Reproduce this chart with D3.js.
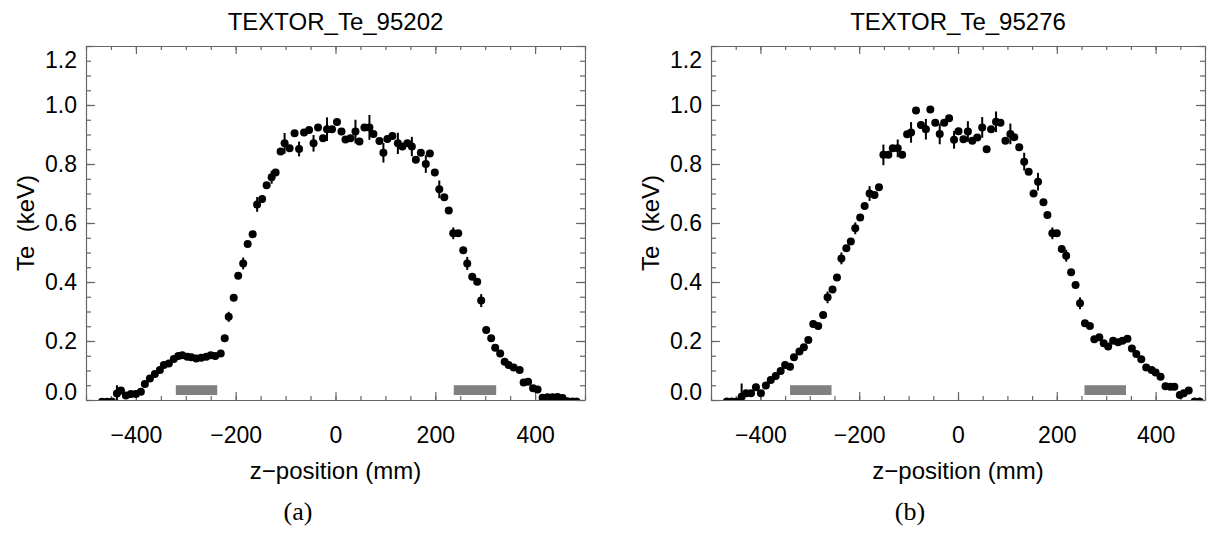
<!DOCTYPE html>
<html>
<head>
<meta charset="utf-8">
<script src="https://cdn.jsdelivr.net/npm/d3@7"></script>
<style>
body { margin: 0; background: #fff; }
svg text { font-family: "Liberation Sans", Arial, sans-serif; fill: #000; }
.axis path, .axis line { stroke: #666; stroke-width: 1.2; }
.axis text { font-size: 23px; }
</style>
</head>
<body>
<svg id="chart" width="1216" height="535"></svg>
<script>
// ---- data ----
var titles = ["TEXTOR_Te_95202", "TEXTOR_Te_95276"];
var panelTags = ["(a)", "(b)"];

var zA = [-468, -458, -448, -438, -430, -420, -410, -400, -390, -382, -372, -362, -352, -344, -334, -324, -315, -307, -297, -289,
  -279, -269, -259, -250, -241, -230, -222, -214, -204, -195, -185, -176, -166, -157, -147, -138, -128, -120, -110, -102,
  -92, -82, -73, -63, -53, -44, -35, -25, -17, -7, 3, 12, 20, 30, 40, 48, 58, 68, 76, 88,
  96, 104, 114, 125, 134, 144, 153, 161, 171, 181, 189, 199, 208, 218, 227, 236, 246, 256, 264, 274,
  284, 292, 302, 312, 320, 330, 339, 347, 357, 369, 377, 386, 396, 405, 415, 425, 435, 445, 455, 465,
  475, 483];
var teA = [-0.006, -0.006, -0.005, 0.022, 0.032, 0.015, 0.020, 0.020, 0.028, 0.054, 0.073, 0.088, 0.102, 0.119, 0.124, 0.139, 0.149, 0.152, 0.147, 0.145,
  0.141, 0.143, 0.147, 0.152, 0.149, 0.158, 0.209, 0.282, 0.347, 0.421, 0.463, 0.529, 0.562, 0.663, 0.681, 0.728, 0.755, 0.771, 0.842, 0.870,
  0.853, 0.904, 0.851, 0.907, 0.915, 0.870, 0.924, 0.887, 0.918, 0.918, 0.942, 0.910, 0.883, 0.887, 0.910, 0.876, 0.924, 0.924, 0.902, 0.878,
  0.838, 0.885, 0.895, 0.870, 0.859, 0.870, 0.859, 0.814, 0.838, 0.800, 0.836, 0.771, 0.714, 0.687, 0.642, 0.565, 0.565, 0.508, 0.463, 0.418,
  0.401, 0.337, 0.237, 0.209, 0.177, 0.158, 0.130, 0.119, 0.110, 0.102, 0.059, 0.062, 0.040, 0.036, 0.008, 0.009, 0.009, 0.010, 0.007, -0.004,
  -0.005, -0.005];
var errA = [0, 0, 0, 0.028, 0.01, 0.01, 0.01, 0.01, 0.01, 0.01, 0.01, 0.01, 0.01, 0.01, 0.01, 0.01, 0.01, 0.01, 0.01, 0.01,
  0.01, 0.01, 0.01, 0.01, 0.01, 0.01, 0.01, 0.017, 0.01, 0.01, 0.02, 0.01, 0.01, 0.025, 0.012, 0.01, 0.022, 0.01, 0.01, 0.035,
  0.01, 0.01, 0.025, 0.01, 0.01, 0.028, 0.01, 0.01, 0.04, 0.01, 0.01, 0.012, 0.01, 0.01, 0.04, 0.01, 0.01, 0.042, 0.01, 0.01,
  0.033, 0.01, 0.01, 0.036, 0.01, 0.01, 0.033, 0.01, 0.01, 0.03, 0.01, 0.01, 0.03, 0.01, 0.01, 0.02, 0.01, 0.01, 0.022, 0.01,
  0.01, 0.022, 0.01, 0.01, 0.01, 0.01, 0.01, 0.01, 0.01, 0.01, 0.01, 0.01, 0.01, 0.01, 0, 0, 0, 0, 0, 0,
  0, 0];

var zB = [-468, -458, -448, -438, -429, -419, -409, -399, -389, -379, -369, -359, -350, -340, -332, -321, -312, -303, -293, -283,
  -273, -264, -254, -245, -236, -226, -217, -208, -198, -189, -179, -169, -160, -151, -141, -132, -122, -113, -103, -95,
  -85, -75, -65, -56, -46, -37, -28, -18, -8, 1, 11, 20, 29, 39, 49, 58, 67, 77, 86, 96,
  106, 114, 124, 134, 143, 153, 162, 173, 181, 191, 200, 210, 219, 229, 238, 247, 257, 267, 276, 286,
  295, 304, 314, 324, 333, 343, 352, 361, 371, 381, 392, 400, 410, 420, 430, 438, 449, 457, 467, 479,
  489];
var teB = [-0.005, -0.005, -0.005, 0.011, 0.023, 0.023, 0.043, 0.023, 0.049, 0.068, 0.081, 0.098, 0.119, 0.113, 0.145, 0.164, 0.179, 0.203, 0.258, 0.251,
  0.288, 0.348, 0.375, 0.415, 0.480, 0.514, 0.537, 0.582, 0.619, 0.658, 0.700, 0.695, 0.721, 0.831, 0.831, 0.853, 0.853, 0.831, 0.901, 0.907,
  0.981, 0.932, 0.918, 0.985, 0.940, 0.902, 0.940, 0.955, 0.882, 0.911, 0.884, 0.910, 0.879, 0.890, 0.924, 0.850, 0.918, 0.943, 0.940, 0.879,
  0.902, 0.891, 0.857, 0.808, 0.774, 0.700, 0.740, 0.670, 0.627, 0.565, 0.565, 0.512, 0.489, 0.433, 0.390, 0.328, 0.260, 0.251, 0.206, 0.213,
  0.192, 0.181, 0.201, 0.196, 0.201, 0.208, 0.175, 0.156, 0.138, 0.110, 0.102, 0.093, 0.079, 0.047, 0.045, 0.045, 0.017, 0.023, 0.032, -0.005,
  -0.005];
var errB = [0, 0, 0, 0.045, 0.01, 0.01, 0.012, 0.01, 0.01, 0.01, 0.01, 0.01, 0.01, 0.01, 0.01, 0.01, 0.01, 0.01, 0.012, 0.01,
  0.01, 0.02, 0.01, 0.01, 0.02, 0.01, 0.01, 0.02, 0.01, 0.01, 0.025, 0.01, 0.01, 0.035, 0.01, 0.01, 0.03, 0.01, 0.01, 0.035,
  0.01, 0.01, 0.035, 0.01, 0.01, 0.035, 0.01, 0.01, 0.03, 0.01, 0.01, 0.035, 0.01, 0.01, 0.035, 0.01, 0.01, 0.035, 0.01, 0.01,
  0.035, 0.01, 0.01, 0.03, 0.01, 0.01, 0.03, 0.01, 0.01, 0.02, 0.01, 0.01, 0.02, 0.01, 0.01, 0.02, 0.01, 0.01, 0.01, 0.01,
  0.01, 0.01, 0.01, 0.01, 0.01, 0.01, 0.01, 0.01, 0.01, 0.01, 0.01, 0.01, 0.01, 0.01, 0.01, 0.01, 0.01, 0.01, 0.012, 0,
  0];

// grey bars: [zStart, zEnd]
var barsA = [[-320, -237], [237, 322]];
var barsB = [[-340, -256], [256, 340]];
var barTe = [0.017, 0.05];

var xDomain = [-500, 500];
var yDomain = [0, 1.2];
var xMajor = [-400, -200, 0, 200, 400];
var xMinor = d3.range(-500, 501, 50);
var yMajor = [0, 0.2, 0.4, 0.6, 0.8, 1.0, 1.2];
var yMinor = d3.range(0, 1.2001, 0.05);

var svg = d3.select("#chart");
svg.append("rect").attr("width", 1216).attr("height", 535).attr("fill", "#fff");

var fmtY = d3.format(".1f");
var fmtX = d3.format("d");

function drawPanel(idx, left, right, tagX, zs, tes, errs, bars) {
  var top = 46, bottom = 400;
  var x = d3.scaleLinear().domain(xDomain).range([left, right]);
  var y = d3.scaleLinear().domain(yDomain).range([bottom, top]);
  var g = svg.append("g");
  var cx = (left + right) / 2;

  // title
  g.append("text").attr("x", cx).attr("y", 30)
    .attr("text-anchor", "middle").style("font-size", "24px").text(titles[idx]);

  // clip
  var clipId = "clip" + idx;
  svg.append("clipPath").attr("id", clipId).append("rect")
    .attr("x", left).attr("y", top).attr("width", right - left).attr("height", bottom - top);

  // axes: bottom / top
  var bot = g.append("g").attr("class", "axis").attr("transform", "translate(0," + bottom + ")");
  bot.call(d3.axisBottom(x).tickValues(xMinor).tickSizeInner(-4).tickSizeOuter(0).tickFormat(""));
  bot.append("g").call(d3.axisBottom(x).tickValues(xMajor).tickSizeInner(-8).tickSizeOuter(0)
    .tickPadding(27).tickFormat(fmtX)).select(".domain").remove();

  var tp = g.append("g").attr("class", "axis").attr("transform", "translate(0," + top + ")");
  tp.call(d3.axisTop(x).tickValues(xMinor).tickSizeInner(-4).tickSizeOuter(0).tickFormat(""));
  tp.append("g").call(d3.axisTop(x).tickValues(xMajor).tickSizeInner(-8).tickSizeOuter(0).tickFormat(""))
    .select(".domain").remove();

  // axes: left / right
  var lf = g.append("g").attr("class", "axis").attr("transform", "translate(" + left + ",0)");
  lf.call(d3.axisLeft(y).tickValues(yMinor).tickSizeInner(-5).tickSizeOuter(0).tickFormat(""));
  var lfMaj = lf.append("g").call(d3.axisLeft(y).tickValues(yMajor).tickSizeInner(-9).tickSizeOuter(0)
    .tickPadding(9).tickFormat(fmtY));
  lfMaj.select(".domain").remove();
  // end labels sit just inside the box
  lfMaj.selectAll(".tick").filter(function(d) { return d === 1.2; }).select("text").attr("transform", "translate(0,14)");
  lfMaj.selectAll(".tick").filter(function(d) { return d === 0; }).select("text").attr("transform", "translate(0,-8)");

  var rt = g.append("g").attr("class", "axis").attr("transform", "translate(" + right + ",0)");
  rt.call(d3.axisRight(y).tickValues(yMinor).tickSizeInner(-5).tickSizeOuter(0).tickFormat(""));
  rt.append("g").call(d3.axisRight(y).tickValues(yMajor).tickSizeInner(-9).tickSizeOuter(0).tickFormat(""))
    .select(".domain").remove();

  g.selectAll(".axis text").attr("fill", "#000");

  // axis titles
  g.append("text").attr("x", cx).attr("y", 479).attr("text-anchor", "middle")
    .style("font-size", "24px").text("z\u2212position (mm)");
  g.append("text")
    .attr("transform", "translate(" + (left - 60) + "," + ((top + bottom) / 2) + ") rotate(-90)")
    .attr("text-anchor", "middle").attr("dy", "0.35em")
    .style("font-size", "24px").style("white-space", "pre").text("Te  (keV)");

  // panel tag
  g.append("text").attr("x", tagX).attr("y", 520).attr("text-anchor", "middle")
    .style("font-family", "'Liberation Serif', 'Times New Roman', serif").style("font-size", "26px")
    .text(panelTags[idx]);

  var plot = g.append("g").attr("clip-path", "url(#" + clipId + ")");

  // grey bars
  plot.selectAll(".bar").data(bars).enter().append("rect")
    .attr("x", function(d) { return x(d[0]); })
    .attr("width", function(d) { return x(d[1]) - x(d[0]); })
    .attr("y", y(barTe[1]))
    .attr("height", y(barTe[0]) - y(barTe[1]))
    .attr("fill", "#808080");

  var pts = zs.map(function(z, i) { return { z: z, te: tes[i], err: errs[i] }; });

  plot.selectAll(".err").data(pts.filter(function(d) { return d.err > 0; })).enter().append("line")
    .attr("x1", function(d) { return x(d.z); })
    .attr("x2", function(d) { return x(d.z); })
    .attr("y1", function(d) { return y(d.te - d.err); })
    .attr("y2", function(d) { return y(d.te + d.err); })
    .attr("stroke", "#000").attr("stroke-width", 2);

  plot.selectAll(".pt").data(pts).enter().append("circle")
    .attr("cx", function(d) { return x(d.z); })
    .attr("cy", function(d) { return y(d.te); })
    .attr("r", 4)
    .attr("fill", "#000");
}

drawPanel(0, 86, 585, 298, zA, teA, errA, barsA);
drawPanel(1, 711, 1205, 910, zB, teB, errB, barsB);
</script>
</body>
</html>
